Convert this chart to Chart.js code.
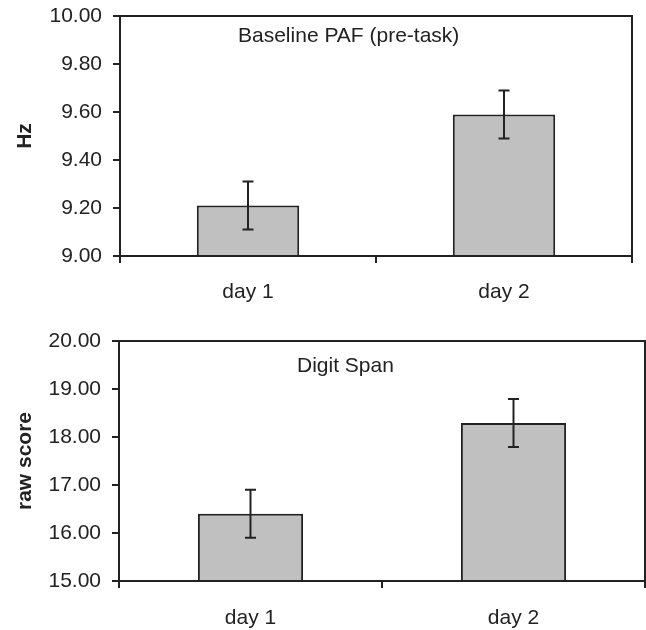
<!DOCTYPE html>
<html>
<head>
<meta charset="utf-8">
<script src="https://cdn.jsdelivr.net/npm/chart.js@4"></script>
<style>
  body { margin: 0; background: #fff; }
  .wrap { position: relative; width: 646px; height: 630px; }
  canvas { position: absolute; left: 0; }
  #paf { top: 0; }
  #span { top: 320px; }
</style>
</head>
<body>
<div class="wrap">
  <canvas id="paf" width="646" height="312"></canvas>
  <canvas id="span" width="646" height="310"></canvas>
</div>
<script>
// Data
const days = ["day 1", "day 2"]

const pafMeans = [9.21, 9.59]
const pafErrors = [0.1, 0.1]
const pafTicks = [9.0, 9.2, 9.4, 9.6, 9.8, 10.0]

const spanMeans = [16.4, 18.29]
const spanErrors = [0.5, 0.5]
const spanTicks = [15, 16, 17, 18, 19, 20]

const INK = "#222"
const FONT = '"Liberation Sans", Arial, sans-serif'

Chart.defaults.font.family = FONT
Chart.defaults.font.size = 21
Chart.defaults.color = INK

// Draws the +/- error whiskers through the y scale
const errorBars = {
  id: "errorBars",
  afterDatasetsDraw(chart, args, opts) {
    const { ctx } = chart
    const y = chart.scales.y
    const values = chart.data.datasets[0].data
    ctx.save()
    ctx.strokeStyle = INK
    ctx.lineWidth = 2
    chart.getDatasetMeta(0).data.forEach((bar, i) => {
      const hi = y.getPixelForValue(values[i] + opts.errors[i])
      const lo = y.getPixelForValue(values[i] - opts.errors[i])
      ctx.beginPath()
      ctx.moveTo(bar.x, hi)
      ctx.lineTo(bar.x, lo)
      ctx.moveTo(bar.x - 5.5, hi)
      ctx.lineTo(bar.x + 5.5, hi)
      ctx.moveTo(bar.x - 5.5, lo)
      ctx.lineTo(bar.x + 5.5, lo)
      ctx.stroke()
    })
    ctx.restore()
  },
}

// Box round the plot area plus the label inside it
const frame = {
  id: "frame",
  afterDraw(chart, args, opts) {
    const { ctx, chartArea: a } = chart
    ctx.save()
    ctx.strokeStyle = INK
    ctx.lineWidth = 2
    ctx.strokeRect(a.left, a.top, a.right - a.left, a.bottom - a.top)
    ctx.fillStyle = INK
    ctx.font = `21px ${FONT}`
    ctx.textBaseline = "alphabetic"
    ctx.fillText(opts.text, a.left + opts.dx, a.top + opts.dy)
    ctx.restore()
  },
}

// No label overflow padding, so the plot box sits where layout.padding puts it
const noOverflow = (scale) => {
  scale.paddingTop = 0
  scale.paddingBottom = 0
  scale.paddingLeft = 0
  scale.paddingRight = 0
}

const makeChart = (el, { means, errors, ticks, yTitle, label, axisWidth, axisHeight, padding, tickPad }) =>
  new Chart(el, {
    type: "bar",
    data: {
      labels: days,
      datasets: [
        {
          data: means,
          backgroundColor: "#c0c0c0",
          borderColor: INK,
          borderWidth: 2,
          barPercentage: 0.4,
          categoryPercentage: 1,
        },
      ],
    },
    options: {
      responsive: false,
      animation: false,
      layout: { padding },
      plugins: {
        legend: { display: false },
        tooltip: { enabled: false },
        errorBars: { errors },
        frame: label,
      },
      scales: {
        x: {
          offset: true,
          border: { display: true, color: INK, width: 2 },
          grid: { display: true, offset: true, drawOnChartArea: false, tickLength: 7, color: INK, lineWidth: 2 },
          ticks: { padding: tickPad, color: INK },
          afterFit: (scale) => {
            scale.height = axisHeight
            noOverflow(scale)
          },
        },
        y: {
          min: ticks[0],
          max: ticks[ticks.length - 1],
          afterBuildTicks: (scale) => { scale.ticks = ticks.map((value) => ({ value })) },
          border: { display: true, color: INK, width: 2 },
          grid: { display: true, drawOnChartArea: false, tickLength: 7, color: INK, lineWidth: 2 },
          ticks: { padding: 11, color: INK, callback: (v) => Number(v).toFixed(2) },
          title: { display: true, text: yTitle, font: { weight: "bold", size: 21 }, padding: { top: 13, bottom: 0 } },
          afterFit: (scale) => {
            scale.width = axisWidth
            noOverflow(scale)
          },
        },
      },
    },
    plugins: [errorBars, frame],
  })

makeChart(document.getElementById("paf"), {
  means: pafMeans,
  errors: pafErrors,
  ticks: pafTicks,
  yTitle: "Hz",
  label: { text: "Baseline PAF (pre-task)", dx: 118, dy: 26 },
  axisWidth: 120,
  axisHeight: 56,
  padding: { top: 16, right: 14, left: 0, bottom: 0 },
  tickPad: 17,
})

makeChart(document.getElementById("span"), {
  means: spanMeans,
  errors: spanErrors,
  ticks: spanTicks,
  yTitle: "raw score",
  label: { text: "Digit Span", dx: 178, dy: 31 },
  axisWidth: 119,
  axisHeight: 49,
  padding: { top: 21, right: 1, left: 0, bottom: 0 },
  tickPad: 18,
})
</script>
</body>
</html>
